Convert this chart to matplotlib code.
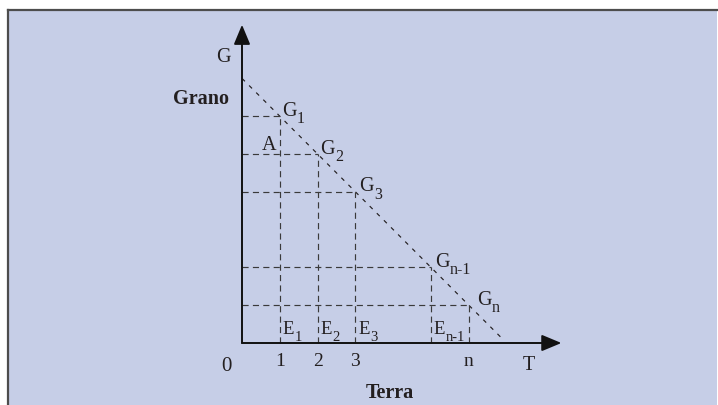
import matplotlib.pyplot as plt
import matplotlib.patches as mpatches
from matplotlib.lines import Line2D

plt.rcParams["font.family"] = ["Liberation Serif", "DejaVu Serif"]

# Land plots (T) and the grain they yield (G)
plot_t = [1, 2, 3, 5, 6]
grain_g = [6, 5, 4, 2, 1]
point_names = ["G", "G", "G", "G", "G"]
point_subs = ["1", "2", "3", "n-1", "n"]
plot_names = ["E", "E", "E", "E"]
plot_subs = ["1", "2", "3", "n-1"]
tick_labels = ["1", "2", "3", "n"]
tick_pos = [1, 2, 3, 6]
g_intercept = 7
line_end = 6.9

PX = 37.8          # pixels per unit
INK = "#231f20"
GUIDE = "#3a3a3a"
PANEL = "#c6cee7"


def sub_label(ax, x, y, main, sub, dx, dy, size, sub_size, drop):
    """Text with a subscript, anchored at a data point."""
    t = ax.annotate(main, xy=(x, y), xytext=(dx, dy), textcoords="offset points",
                    ha="left", va="baseline", fontsize=size, color=INK)
    ax.annotate(sub, xy=(1, 0), xycoords=t, xytext=(0.3, -drop),
                textcoords="offset points", ha="left", va="bottom",
                fontsize=sub_size, color=INK)


def plot_chart():
    fig = plt.figure(figsize=(7.18, 4.06), dpi=100)
    fig.patch.set_facecolor("white")

    # Shaded panel with a dark top and left border
    fig.patches.append(mpatches.Rectangle(
        (7 / 718, 0), 710 / 718, 396 / 406, transform=fig.transFigure,
        facecolor=PANEL, edgecolor="none", zorder=-2))
    border = dict(color="#4d4d4d", linewidth=1.6, transform=fig.transFigure, zorder=-1)
    fig.lines.append(Line2D([7.5 / 718, 717 / 718], [395.5 / 406] * 2, **border))
    fig.lines.append(Line2D([7.5 / 718] * 2, [0, 395.5 / 406], **border))

    ax = fig.add_axes([0, 0, 1, 1])
    ax.set_zorder(1)
    ax.set_xlim(-242 / PX, 476 / PX)
    ax.set_ylim(-62 / PX, 344 / PX)
    ax.axis("off")

    # Diagonal frontier
    ax.plot([0, line_end], [g_intercept, g_intercept - line_end],
            color=INK, lw=0.85, dashes=(3.5, 5))

    # Dashed guides from each point to the axes
    for t, g in zip(plot_t, grain_g):
        ax.plot([0, t], [g, g], color=GUIDE, lw=0.85, dashes=(5.2, 3.6))
        ax.plot([t, t], [0, g], color=GUIDE, lw=0.85, dashes=(5.2, 3.6))

    # Axes with arrowheads
    arrow = dict(arrowstyle="-|>,head_length=1.2,head_width=0.5",
                 mutation_scale=10, color="#111111", lw=1.4,
                 shrinkA=0, shrinkB=0)
    ax.annotate("", xy=(8.45, 0), xytext=(0, 0), arrowprops=arrow)
    ax.annotate("", xy=(0, 8.42), xytext=(0, 0), arrowprops=arrow)

    # Point labels
    offsets = [1.5, 2, 2.5, 3, 6]
    for t, g, name, sub, dx in zip(plot_t, grain_g, point_names, point_subs, offsets):
        sub_label(ax, t, g, name, sub, dx, 1, 14.5, 11.5, 4.5)

    # Plot labels along the bottom
    for t, name, sub in zip(plot_t, plot_names, plot_subs):
        sub_label(ax, t, 0.26, name, sub, 2, 0, 13.5, 10.5, 4.2)

    for t, lab in zip(tick_pos, tick_labels):
        ax.text(t, -0.59, lab, ha="center", va="baseline", fontsize=14, color=INK)

    ax.text(-0.40, -0.71, "0", ha="center", va="baseline", fontsize=15, color=INK)
    ax.text(7.59, -0.69, "T", ha="center", va="baseline", fontsize=14.5, color=INK)
    ax.text(-0.48, 7.59, "G", ha="center", va="center", fontsize=14.5, color=INK)
    ax.text(0.71, 5.13, "A", ha="center", va="baseline", fontsize=14.5, color=INK)

    ax.text(-1.08, 6.48, "Grano", ha="center", va="center", fontsize=14.5,
            fontweight="bold", color=INK)
    ax.text(3.92, -1.30, "Terra", ha="center", va="center", fontsize=14.5,
            fontweight="bold", color=INK)

    plt.savefig("out.png", dpi=100)


def main():
    plot_chart()


if __name__ == "__main__":
    main()
